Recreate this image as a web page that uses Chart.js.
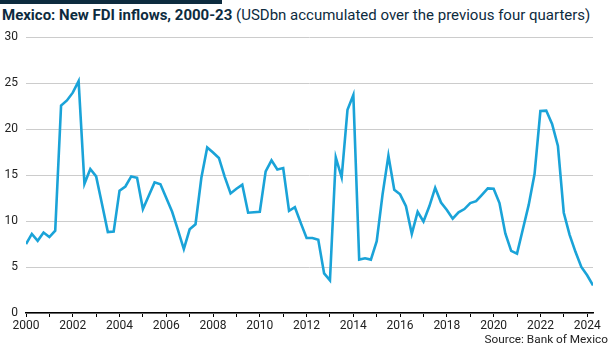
<!DOCTYPE html>
<html>
<head>
<meta charset="utf-8">
<script src="https://cdn.jsdelivr.net/npm/chart.js@4"></script>
<style>
  html, body { margin: 0; padding: 0; background: #fff; }
  #wrap { position: relative; width: 615px; height: 350px; overflow: hidden; font-family: Roboto, "Noto Sans", sans-serif; }
  #bar { position: absolute; left: 0; top: 0; width: 222px; height: 4px; background: #0d2b3e; }
  #title { position: absolute; left: 2px; top: 6px; font-size: 15px; color: #0d2b3e; white-space: nowrap; letter-spacing: 0px; }
  #title b { font-weight: 700; }
  #source { position: absolute; right: 7px; top: 332px; font-size: 11.8px; color: #222; }
  canvas { position: absolute; left: 0; top: 0; }
</style>
</head>
<body>
<div id="wrap">
  <div id="bar"></div>
  <div id="title"><b>Mexico: New FDI inflows, 2000-23</b> (USDbn accumulated over the previous four quarters)</div>
  <canvas id="c" width="615" height="350"></canvas>
  <div id="source">Source: Bank of Mexico</div>
</div>
<script>
// Quarterly observations from 2000Q1
const startYear = 2000;
const fdiValues = [
  7.5, 8.6, 7.85, 8.75, 8.25, 8.95, 22.55, 23.1, 23.95, 25.2,
  14.05, 15.65, 14.85, 11.85, 8.8, 8.85, 13.3, 13.75, 14.85, 14.7,
  11.3, 12.75, 14.2, 14.0, 12.5, 11.0, 9.0, 6.95, 9.1, 9.65,
  14.7, 18.0, 17.45, 16.85, 14.8, 13.0, 13.5, 13.95, 10.9, 10.95,
  11.0, 15.4, 16.6, 15.6, 15.75, 11.1, 11.5, 9.8, 8.15, 8.15,
  7.95, 4.3, 3.55, 16.9, 14.75, 22.1, 23.7, 5.8, 5.95, 5.8,
  7.8, 12.9, 17.1, 13.4, 12.9, 11.6, 8.6, 11.0, 9.95, 11.6,
  13.6, 12.0, 11.2, 10.25, 10.95, 11.3, 11.95, 12.15, 12.85, 13.55,
  13.5, 11.95, 8.65, 6.75, 6.45, 9.1, 11.75, 15.1, 21.95, 22.0,
  20.55, 18.15, 10.9, 8.5, 6.65, 5.0, 4.1, 3.0
];
const yTicks = [0, 5, 10, 15, 20, 25, 30];
const xTickYears = [2000, 2002, 2004, 2006, 2008, 2010, 2012, 2014, 2016, 2018, 2020, 2022, 2024];

const points = fdiValues.map((v, i) => ({ x: startYear + i / 4, y: v }));

const tickFont = { family: 'Roboto, "Noto Sans", sans-serif', size: 12 };

new Chart(document.getElementById('c'), {
  type: 'line',
  data: {
    datasets: [{
      data: points,
      borderColor: '#1aa3d8',
      borderWidth: 2.6,
      pointRadius: 0,
      tension: 0,
      fill: false
    }]
  },
  options: {
    responsive: false,
    animation: false,
    layout: { padding: { top: 37, right: 22, left: 0, bottom: 0 } },
    plugins: { legend: { display: false }, tooltip: { enabled: false }, title: { display: false } },
    scales: {
      x: {
        type: 'linear',
        min: 2000,
        max: 2024.25,
        afterFit: s => { s.height = 37; },
        ticks: {
          stepSize: 1,
          includeBounds: false,
          autoSkip: false,
          maxRotation: 0,
          padding: 2,
          color: '#222',
          font: tickFont,
          callback: v => xTickYears.includes(v) ? String(v) : ''
        },
        grid: { drawOnChartArea: false, drawTicks: true, tickLength: 4, color: '#000', lineWidth: 1 },
        border: { display: true, color: '#000', width: 1.5 }
      },
      y: {
        min: 0,
        max: 30,
        afterFit: s => { s.width = 26; },
        afterBuildTicks: s => { s.ticks = yTicks.map(v => ({ value: v })); },
        ticks: { padding: 8, color: '#222', font: tickFont },
        grid: { color: '#cccccc', lineWidth: 1, drawTicks: false },
        border: { display: false }
      }
    }
  }
});
</script>
</body>
</html>
